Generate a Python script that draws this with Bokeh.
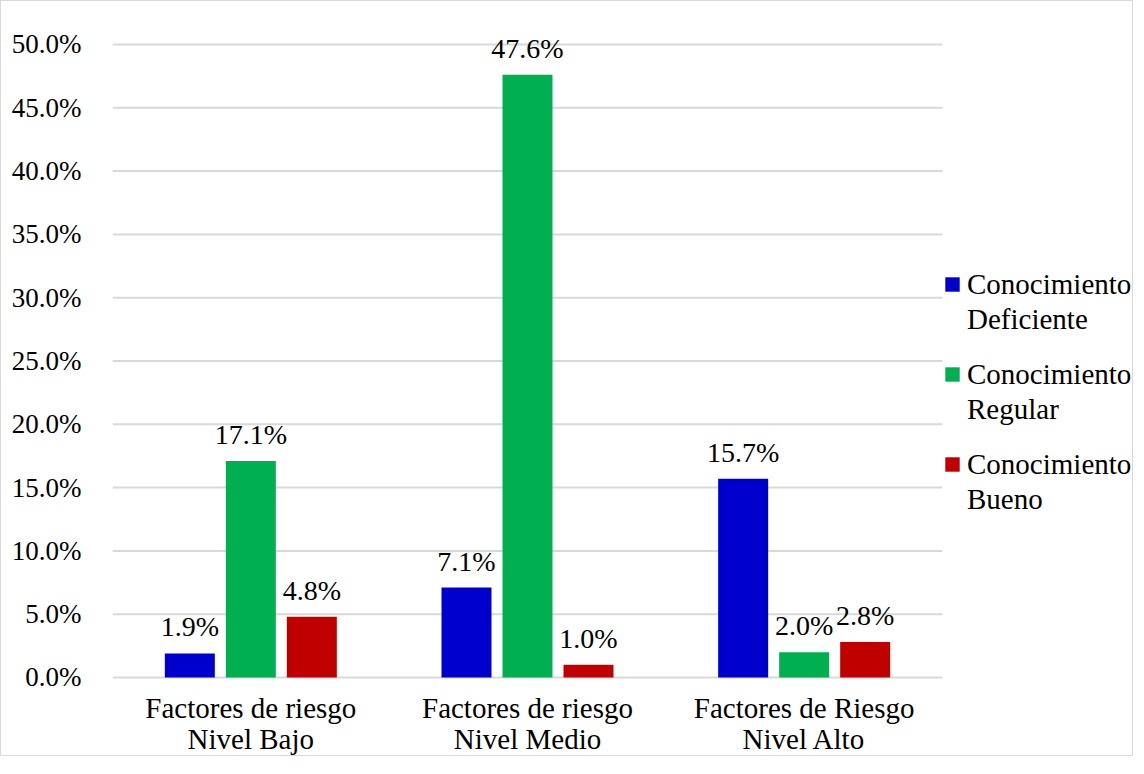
from bokeh.plotting import figure
from bokeh.models import (ColumnDataSource, Range1d, FixedTicker,
                          NumeralTickFormatter, Legend, LegendItem, LabelSet)
from bokeh.core.properties import value
from bokeh.embed import file_html
from bokeh.resources import INLINE

categories = ["Factores de riesgo\nNivel Bajo",
              "Factores de riesgo\nNivel Medio",
              "Factores de Riesgo\nNivel Alto"]
legend_line1 = ["Conocimiento", "Conocimiento", "Conocimiento"]
legend_line2 = ["Deficiente", "Regular", "Bueno"]
deficiente = [0.019, 0.071, 0.157]
regular = [0.171, 0.476, 0.020]
bueno = [0.048, 0.010, 0.028]
colors = ["#0000CC", "#00B050", "#C00000"]
y_ticks = [0.0, 0.05, 0.10, 0.15, 0.20, 0.25, 0.30, 0.35, 0.40, 0.45, 0.50]

FONT = "Liberation Serif"
GRID = "#d9d9d9"
n = len(categories)
centers = [i + 0.5 for i in range(n)]

p = figure(x_range=Range1d(0, 3.694), y_range=Range1d(-0.0632, 0.5221),
           width=1133, height=756, output_backend="svg", toolbar_location=None,
           min_border_left=111, min_border_right=0, min_border_top=15,
           min_border_bottom=0, outline_line_color=None,
           styles={"border": "1px solid #d9d9d9"})

# horizontal gridlines over the category area only
p.segment(x0=[0] * len(y_ticks), x1=[n] * len(y_ticks), y0=y_ticks, y1=y_ticks,
          line_color=GRID, line_width=2)

renderers = []
for vals, off, col in [(deficiente, -0.2205, colors[0]),
                       (regular, 0.0, colors[1]),
                       (bueno, 0.2205, colors[2])]:
    src = ColumnDataSource(dict(x=[c + off for c in centers], top=vals,
                                lab=[f"{v*100:.1f}%" for v in vals]))
    r = p.vbar(x="x", top="top", bottom=0, width=0.1807, source=src,
               fill_color=col, line_color=None)
    renderers.append(r)
    p.add_layout(LabelSet(x="x", y="top", text="lab", source=src,
                          text_align="center", text_baseline="alphabetic",
                          y_offset=17, text_font=value(FONT), text_font_size="28px",
                          text_color="#000000"))

# category labels under the axis, one LabelSet per text line
lines = [c.split("\n") for c in categories]
for k, yoff in ((0, -41), (1, -72)):
    cat_src = ColumnDataSource(dict(x=centers, y=[0] * n, lab=[l[k] for l in lines]))
    p.add_layout(LabelSet(x="x", y="y", text="lab", source=cat_src,
                          text_align="center", text_baseline="alphabetic",
                          y_offset=yoff, text_font=value(FONT), text_font_size="29px",
                          text_color="#000000"))

dummy = p.vbar(x=[], top=[], width=0.1, fill_alpha=0, line_alpha=0)

p.xaxis.visible = False
p.yaxis.ticker = FixedTicker(ticks=y_ticks)
p.yaxis.formatter = NumeralTickFormatter(format="0.0%")
p.yaxis.major_label_text_font = FONT
p.yaxis.major_label_text_font_size = "27px"
p.yaxis.major_label_text_color = "#000000"
p.yaxis.major_tick_line_color = None
p.yaxis.minor_tick_line_color = None
p.yaxis.axis_line_color = None
p.yaxis.major_label_standoff = 25
p.xgrid.grid_line_color = None
p.ygrid.grid_line_color = None

common = dict(border_line_color=None, background_fill_alpha=0,
              label_text_font=FONT, label_text_font_size="29px",
              label_text_color="#000000",
              glyph_width=18, glyph_height=18, label_height=34, spacing=56,
              label_standoff=6, padding=0, margin=0)
leg_a = Legend(items=[LegendItem(label=t, renderers=[r]) for t, r in zip(legend_line1, renderers)],
               location=(831, 276), **common)
leg_b = Legend(items=[LegendItem(label=t, renderers=[dummy]) for t in legend_line2],
               location=(831, 241), **common)
p.add_layout(leg_a, "center")
p.add_layout(leg_b, "center")

open("out.html", "w").write(file_html(p, INLINE))
